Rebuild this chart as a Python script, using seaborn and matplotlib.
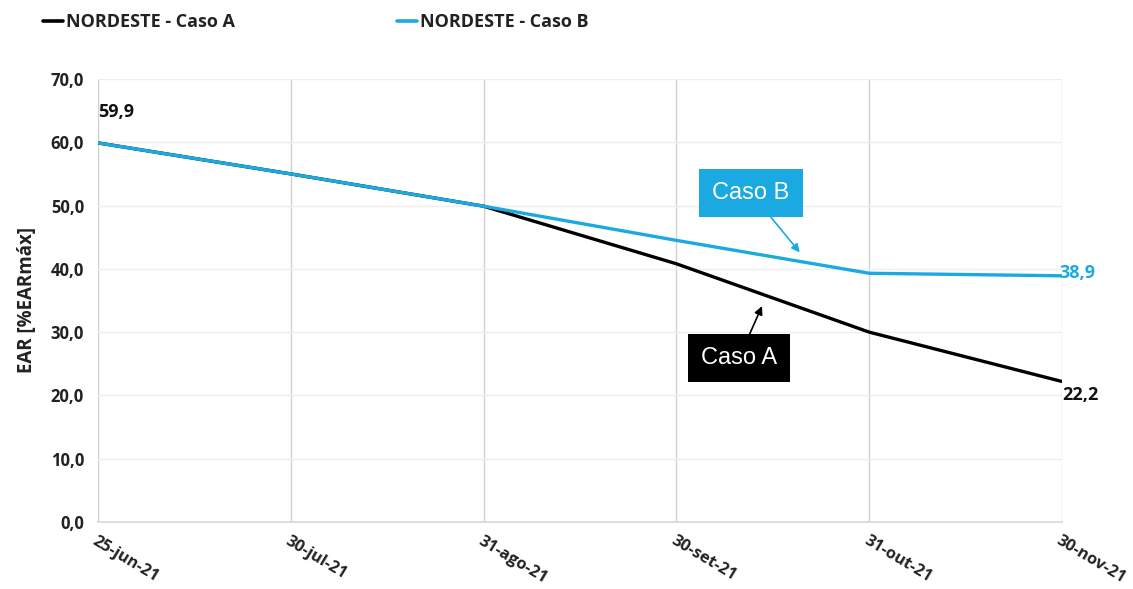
import matplotlib
matplotlib.use("Agg")
import matplotlib.pyplot as plt
import seaborn as sns
import pandas as pd
from matplotlib.lines import Line2D

dates = ["25-jun-21", "30-jul-21", "31-ago-21", "30-set-21", "31-out-21", "30-nov-21"]
caso_a = [59.9, 55.0, 49.9, 40.8, 30.0, 22.2]
caso_b = [59.9, 55.0, 49.9, 44.5, 39.3, 38.9]
series_names = ["NORDESTE - Caso A", "NORDESTE - Caso B"]
yticks = [0, 10, 20, 30, 40, 50, 60, 70]

sns.set_theme(style="white")
FONT = ['Open Sans', 'DejaVu Sans']
plt.rcParams['font.family'] = FONT

BLUE = "#1BA9E1"
colors = {series_names[0]: "black", series_names[1]: BLUE}

df = pd.DataFrame({
    "x": list(range(len(dates))) * 2,
    "y": caso_a + caso_b,
    "serie": [series_names[0]] * len(dates) + [series_names[1]] * len(dates),
})

fig = plt.figure(figsize=(11.33, 5.89), dpi=100)
ax = fig.add_axes([0.0865, 0.1138, 0.9373 - 0.0865, 0.8659 - 0.1138])

sns.lineplot(data=df, x="x", y="y", hue="serie", palette=colors, ax=ax,
             linewidth=2.4, legend=False, zorder=3)

ax.set_xlim(0, len(dates) - 1)
ax.set_ylim(0, 70)
ax.set_yticks(yticks)
ax.set_yticklabels([f"{v:.1f}".replace(".", ",") for v in yticks],
                   fontsize=12, fontweight="bold", color="#222222")
ax.set_xticks(range(len(dates)))
ax.set_xticklabels(dates, rotation=-31, ha="left", va="top", rotation_mode="anchor",
                   fontsize=11.8, fontweight="bold", color="#222222")
ax.tick_params(axis="x", length=7, color="#d0d0d0", width=1, pad=1)
ax.tick_params(axis="y", length=0, pad=10)

ax.yaxis.grid(True, color="#eeeeee", linewidth=1)
ax.xaxis.grid(True, color="#d0d0d0", linewidth=1)
for s in ["top", "right", "left"]:
    ax.spines[s].set_visible(False)
ax.spines["bottom"].set_color("#d9d9d9")
ax.set_xlabel("")
ax.set_ylabel("EAR [%EARmáx]", fontsize=13.5, fontweight="bold", color="#222222", labelpad=10)


def fmt(v):
    return f"{v:.1f}".replace(".", ",")


ax.annotate(fmt(caso_a[0]), (0, caso_a[0]), xytext=(0, 22), textcoords="offset points",
            ha="left", va="center", fontsize=13, fontweight="bold", color="#111111")
ax.annotate(fmt(caso_b[-1]), (5, caso_b[-1]), xytext=(-2, 2), textcoords="offset points",
            ha="left", va="center", fontsize=13, fontweight="bold", color=BLUE)
ax.annotate(fmt(caso_a[-1]), (5, caso_a[-1]), xytext=(0, -10), textcoords="offset points",
            ha="left", va="center", fontsize=13, fontweight="bold", color="#111111")

# callouts
ax.annotate("Caso B", xy=(3.64, 42.6), xytext=(3.387, 52.0), textcoords="data",
            ha="center", va="center", fontsize=17, color="white",
            family=["Liberation Sans", "DejaVu Sans"],
            bbox=dict(boxstyle="square,pad=0.55", fc=BLUE, ec="none"),
            arrowprops=dict(arrowstyle="-|>", color=BLUE, lw=1.2, mutation_scale=12,
                            shrinkA=0, shrinkB=0))
ax.annotate("Caso A", xy=(3.444, 34.1), xytext=(3.325, 25.9), textcoords="data",
            ha="center", va="center", fontsize=17, color="white",
            family=["Liberation Sans", "DejaVu Sans"],
            bbox=dict(boxstyle="square,pad=0.55", fc="black", ec="none"),
            arrowprops=dict(arrowstyle="-|>", color="black", lw=1.2, mutation_scale=12,
                            shrinkA=0, shrinkB=0))

# legend
handles = [Line2D([0], [0], color="black", lw=2.6), Line2D([0], [0], color=BLUE, lw=2.6)]
leg = fig.legend(handles, series_names, loc="upper left", bbox_to_anchor=(0.024, 1.005),
                 ncol=2, frameon=False, handlelength=1.1, handletextpad=0.15,
                 columnspacing=9.0, prop={"family": FONT, "size": 13,
                                          "weight": "bold"})
for t in leg.get_texts():
    t.set_color("#222222")

fig.savefig("out.png", dpi=100)
